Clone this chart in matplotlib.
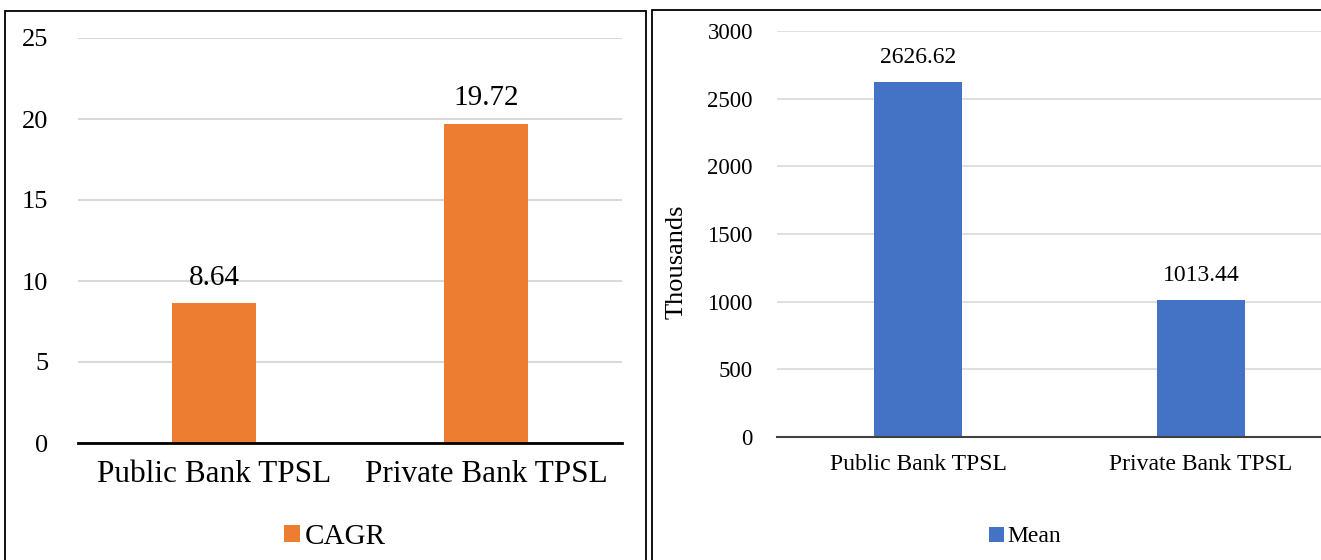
import matplotlib
matplotlib.use("Agg")
import matplotlib.pyplot as plt
from matplotlib.patches import Rectangle

categories = ["Public Bank TPSL", "Private Bank TPSL"]
cagr = [8.64, 19.72]
mean_vals = [2626.62, 1013.44]
left_ticks = [0, 5, 10, 15, 20, 25]
right_ticks = [0, 500, 1000, 1500, 2000, 2500, 3000]

plt.rcParams['font.family'] = ['Liberation Serif', 'DejaVu Serif']

W, H = 1321, 560
fig = plt.figure(figsize=(W / 100, H / 100), dpi=100)

def px(x0, x1, ytop, ybot):
    return [x0 / W, 1 - ybot / H, (x1 - x0) / W, (ybot - ytop) / H]

# panel borders
fig.patches.append(Rectangle((5 / W, -0.05), (646 - 5) / W, 1 - 11 / H + 0.05,
                             transform=fig.transFigure, fill=False, ec='black', lw=1.3))
fig.patches.append(Rectangle((652 / W, -0.05), (1330 - 652) / W, 1 - 10 / H + 0.05,
                             transform=fig.transFigure, fill=False, ec='black', lw=1.3))

orange = '#ED7D31'
blue = '#4472C4'
grid = '#D9D9D9'

# Left chart
ax1 = fig.add_axes(px(78, 622, 38, 443))
x = range(len(categories))
ax1.bar(x, cagr, width=0.31, color=orange, zorder=3, label='CAGR')
ax1.set_xlim(-0.5, 1.5)
ax1.set_ylim(0, 25)
ax1.set_yticks(left_ticks)
ax1.set_xticks(list(x))
ax1.set_xticklabels(categories, fontsize=22.5)
ax1.tick_params(axis='y', labelsize=19, length=0, pad=21.5)
ax1.tick_params(axis='x', length=0, pad=12)
for s in ['top', 'right', 'left']:
    ax1.spines[s].set_visible(False)
ax1.spines['bottom'].set_color('black')
ax1.spines['bottom'].set_linewidth(2)
ax1.spines['bottom'].set_zorder(4)
ax1.yaxis.grid(True, color=grid, lw=1.5, zorder=0)
ax1.set_axisbelow(True)
for xi, v in zip(x, cagr):
    ax1.annotate(f"{v:.2f}", (xi, v), xytext=(0, 9), textcoords='offset points',
                 ha='center', va='bottom', fontsize=21)
ax1.legend(loc='center', bbox_to_anchor=(335 / W, 1 - 537 / H), bbox_transform=fig.transFigure,
           frameon=False, fontsize=21, handlelength=0.55, handleheight=0.55, handletextpad=0.15)

# Right chart
ax2 = fig.add_axes(px(776.5, 1342.5, 31, 437))
ax2.bar(x, mean_vals, width=0.31, color=blue, zorder=3, label='Mean')
ax2.set_xlim(-0.5, 1.5)
ax2.set_ylim(0, 3000)
ax2.set_yticks(right_ticks)
ax2.set_xticks(list(x))
ax2.set_xticklabels(categories, fontsize=17)
ax2.tick_params(axis='y', labelsize=16.5, length=0, pad=17)
ax2.tick_params(axis='x', length=0, pad=12)
for s in ['top', 'right', 'left']:
    ax2.spines[s].set_visible(False)
ax2.spines['bottom'].set_color('#404040')
ax2.spines['bottom'].set_linewidth(1.5)
ax2.spines['bottom'].set_zorder(4)
ax2.yaxis.grid(True, color=grid, lw=1.2, zorder=0)
ax2.set_axisbelow(True)
ax2.set_ylabel('Thousands', fontsize=19)
ax2.yaxis.set_label_coords((677 - 776.5) / 566, (437 - 262) / 406)
ax2.yaxis.label.set_verticalalignment('center')
for xi, v in zip(x, mean_vals):
    ax2.annotate(f"{v:.2f}", (xi, v), xytext=(0, 10), textcoords='offset points',
                 ha='center', va='bottom', fontsize=17)
ax2.legend(loc='center', bbox_to_anchor=(1025 / W, 1 - 537 / H), bbox_transform=fig.transFigure,
           frameon=False, fontsize=17, handlelength=0.6, handleheight=0.6, handletextpad=0.15)

fig.savefig('out.png', dpi=100)
